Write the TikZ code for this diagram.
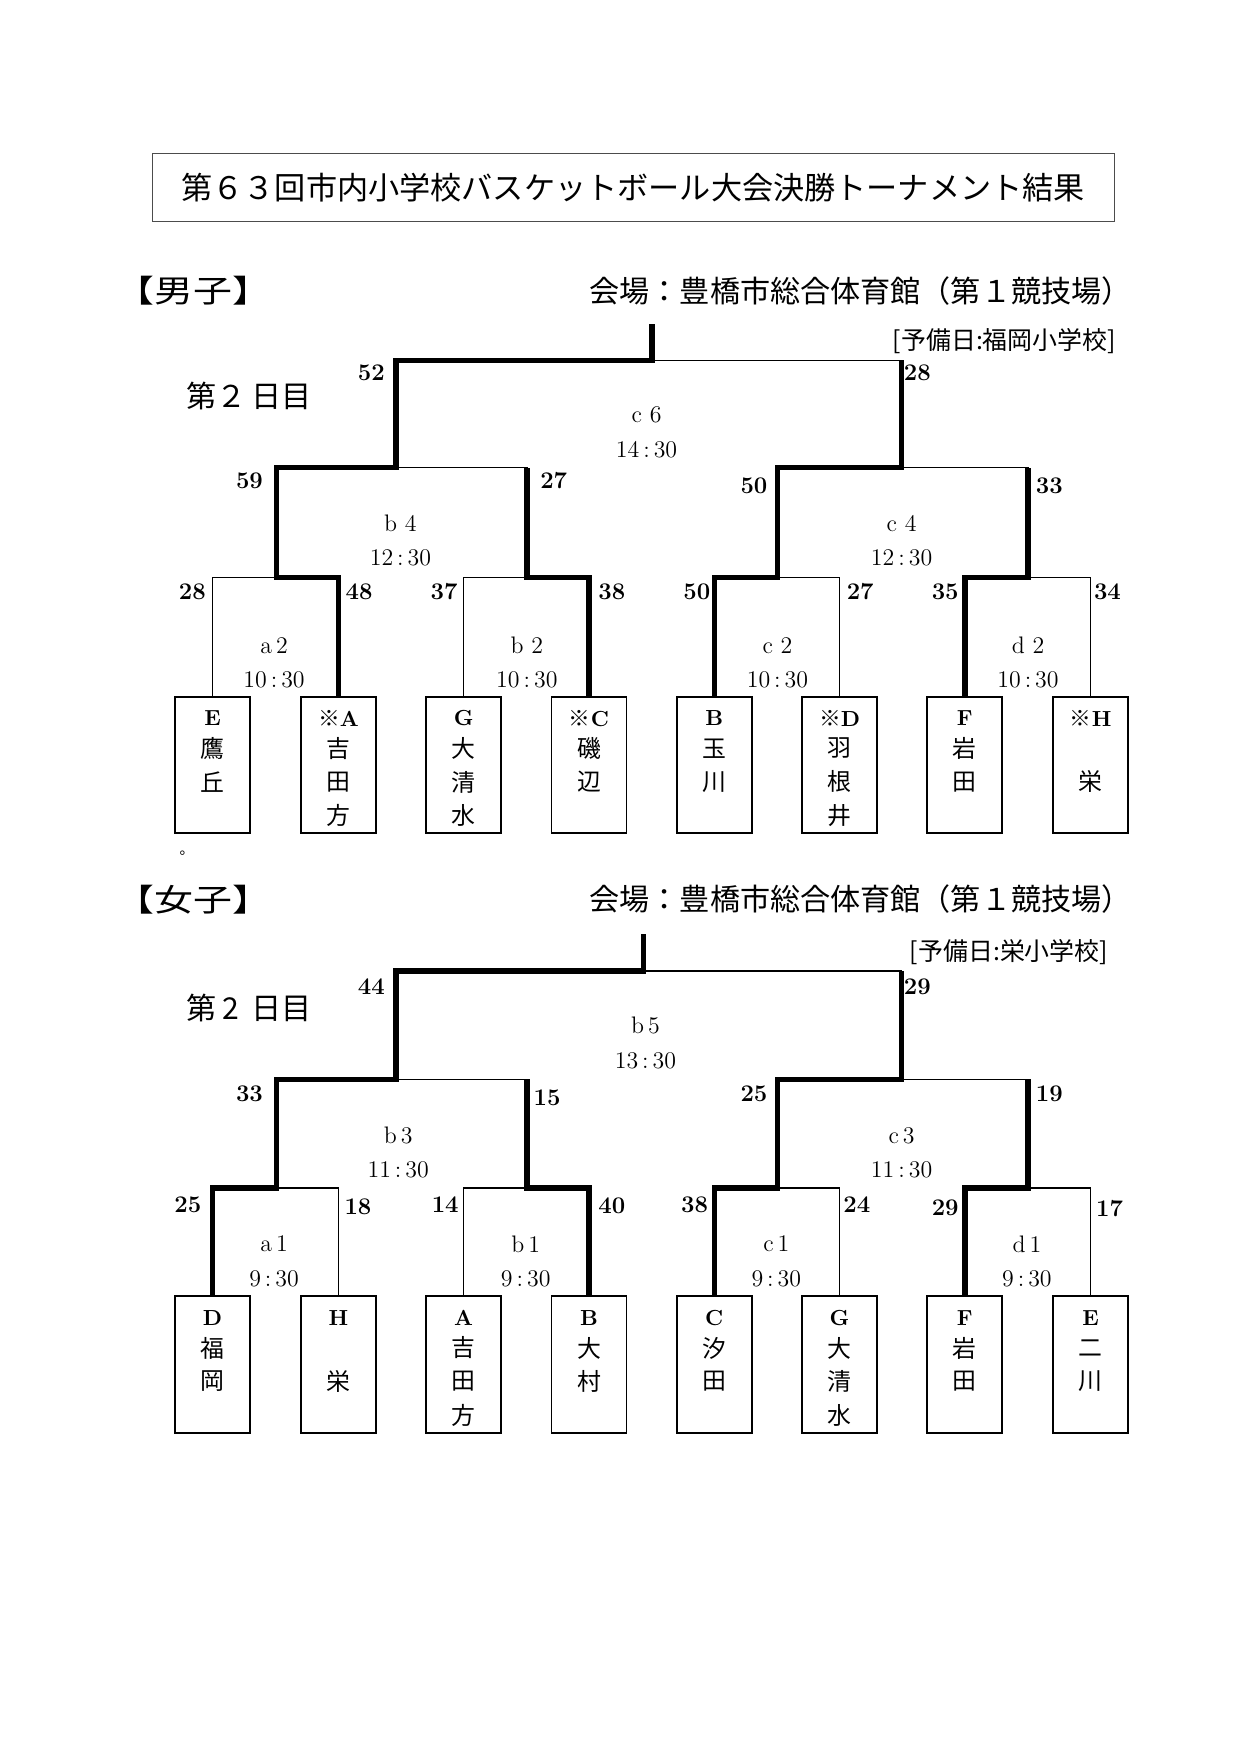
\documentclass[tikz,border=0pt]{standalone}
\usepackage{fontspec}
\newfontfamily\jp{Noto Sans CJK JP}
\newfontfamily\jpwide[FakeStretch=1.25]{Noto Sans CJK JP}
\tikzset{
  thinln/.style={line width=0.6pt},
  winln/.style={line width=2.6pt, line join=miter},
  tbox/.style={draw, line width=0.9pt, minimum width=12.7mm, minimum height=23.1mm, inner sep=0pt, anchor=north},
  score/.style={font=\fontsize{11.5}{12}\selectfont\bfseries, inner sep=0pt},
  mlabel/.style={font=\fontsize{11.5}{12}\selectfont, inner sep=0pt},
  tletter/.style={font=\fontsize{10.5}{11}\selectfont\bfseries, inner sep=0pt},
  tchar/.style={font=\jp\fontsize{11.5}{12}\selectfont, inner sep=0pt},
  hdr/.style={font=\jp\fontsize{14.5}{15}\selectfont, inner sep=0pt},
  sect/.style={font=\jpwide\fontsize{15}{16}\selectfont, inner sep=0pt, anchor=west},
  resv/.style={font=\jp\fontsize{12}{13}\selectfont, inner sep=0pt, anchor=east},
}
\newcommand\teambox[7]{%
  \node[tbox] (#1) at (#2,#3) {};
  \node[tletter] (#1-l) at (#2,#3+20) {#4};
  \node[tchar] (#1-a) at (#2,#3+47) {#5};
  \node[tchar] (#1-b) at (#2,#3+77) {#6};
  \node[tchar] (#1-c) at (#2,#3+107) {#7};
}
\newcommand\matchlbl[5]{%
  \node[mlabel] (#1-n) at (#2,#3) {#4};
  \node[mlabel] (#1-t) at (#2,#3+31) {#5};
}
\newcommand\mk{{\jp ※}}
\begin{document}
\begin{tikzpicture}[x=0.18932mm,y=-0.18932mm]
\useasboundingbox (0,0) rectangle (1109,1568);

% title
\node[draw=black!70, line width=0.6pt, minimum width=162.8mm, minimum height=11.55mm,
      font=\jp\fontsize{15}{16}\selectfont] (title) at (566,167.5)
  {第６３回市内小学校バスケットボール大会決勝トーナメント結果};

% ================= boys =================
\node[sect] (mhead) at (103,260) {【男子】};
\node[hdr, anchor=east] (mvenue) at (1012,260) {会場：豊橋市総合体育館（第１競技場）};
\node[resv] (mres) at (998,305) {[予備日:福岡小学校]};
\node[hdr, anchor=west] (mday) at (166.5,354) {第２\hspace{2pt}日目};

\teambox{mE}{190}{622}{E}{鷹}{丘}{}
\teambox{mA}{302.5}{622}{\mk A}{吉}{田}{方}
\teambox{mG}{414.5}{622}{G}{大}{清}{水}
\teambox{mC}{526.5}{622}{\mk C}{磯}{辺}{}
\teambox{mB}{638.5}{622}{B}{玉}{川}{}
\teambox{mD}{750.5}{622}{\mk D}{羽}{根}{井}
\teambox{mF}{862.5}{622}{F}{岩}{田}{}
\teambox{mH}{975}{622}{\mk H}{}{栄}{}

\coordinate (mtop) at (583,290);
\coordinate (mfin) at (583,322);
\coordinate (mb4) at (354,418);
\coordinate (mc4) at (806,418);
\coordinate (ma2) at (247,516);
\coordinate (mb2) at (471,516);
\coordinate (mc2) at (695,516);
\coordinate (md2) at (919,516);

\draw[thinln] (mtop) -- (mfin);
\draw[thinln] (mb4) |- (mfin) -| (mc4);
\draw[thinln] (ma2) |- (mb4) -| (mb2);
\draw[thinln] (mc2) |- (mc4) -| (md2);
\draw[thinln] (mE.north) |- (ma2) -| (mA.north);
\draw[thinln] (mG.north) |- (mb2) -| (mC.north);
\draw[thinln] (mB.north) |- (mc2) -| (mD.north);
\draw[thinln] (mF.north) |- (md2) -| (mH.north);

\draw[winln] (mA.north) |- (ma2) |- (mb4) |- (mfin) -- (mtop);
\draw[winln] (mC.north) |- (mb2) -- (mb2 |- mb4);
\draw[winln] (mB.north) |- (mc2) |- (mc4) -- (mc4 |- mfin);
\draw[winln] (mF.north) |- (md2) -- (md2 |- mc4);

\node[score] (ms1) at (332,333) {52};
\node[score] (ms2) at (820,333) {28};
\node[score] (ms3) at (223,430) {59};
\node[score] (ms4) at (495,430) {27};
\node[score] (ms5) at (674,434) {50};
\node[score] (ms6) at (938,434) {33};
\node[score] (ms7) at (172,529) {28};
\node[score] (ms8) at (321,529) {48};
\node[score] (ms9) at (397,529) {37};
\node[score] (ms10) at (547,529) {38};
\node[score] (ms11) at (623,529) {50};
\node[score] (ms12) at (769,529) {27};
\node[score] (ms13) at (845,529) {35};
\node[score] (ms14) at (990,529) {34};

\matchlbl{mlc6}{578}{371}{c\ 6}{14\,:\,30}
\matchlbl{mlb4}{358}{468}{b\ 4}{12\,:\,30}
\matchlbl{mlc4}{806}{468}{c\ 4}{12\,:\,30}
\matchlbl{mla2}{245}{577}{a\,2}{10\,:\,30}
\matchlbl{mlb2}{471}{577}{b\ 2}{10\,:\,30}
\matchlbl{mlc2}{695}{577}{c\ 2}{10\,:\,30}
\matchlbl{mld2}{919}{577}{d\ 2}{10\,:\,30}

\node[font=\jp\fontsize{7}{8}\selectfont, inner sep=0pt] (dot) at (167,763) {。};

% ================= girls =================
\node[sect] (whead) at (103,804) {【女子】};
\node[hdr, anchor=east] (wvenue) at (1012,804) {会場：豊橋市総合体育館（第１競技場）};
\node[resv] (wres) at (991,851) {[予備日:栄小学校]};
\node[hdr, anchor=west] (wday) at (166.5,901) {第\hspace{2.7pt}2\hspace{6pt}日目};

\teambox{wD}{190}{1158}{D}{福}{岡}{}
\teambox{wH}{302.5}{1158}{H}{}{栄}{}
\teambox{wA}{414.5}{1158}{A}{吉}{田}{方}
\teambox{wB}{526.5}{1158}{B}{大}{村}{}
\teambox{wC}{638.5}{1158}{C}{汐}{田}{}
\teambox{wG}{750.5}{1158}{G}{大}{清}{水}
\teambox{wF}{862.5}{1158}{F}{岩}{田}{}
\teambox{wE}{975}{1158}{E}{二}{川}{}

\coordinate (wtop) at (575,835);
\coordinate (wfin) at (575,868);
\coordinate (wb3) at (354,965);
\coordinate (wc3) at (806,965);
\coordinate (wa1) at (247,1062);
\coordinate (wb1) at (471,1062);
\coordinate (wc1) at (695,1062);
\coordinate (wd1) at (919,1062);

\draw[thinln] (wtop) -- (wfin);
\draw[thinln] (wb3) |- (wfin) -| (wc3);
\draw[thinln] (wa1) |- (wb3) -| (wb1);
\draw[thinln] (wc1) |- (wc3) -| (wd1);
\draw[thinln] (wD.north) |- (wa1) -| (wH.north);
\draw[thinln] (wA.north) |- (wb1) -| (wB.north);
\draw[thinln] (wC.north) |- (wc1) -| (wG.north);
\draw[thinln] (wF.north) |- (wd1) -| (wE.north);

\draw[winln] (wD.north) |- (wa1) |- (wb3) |- (wfin) -- (wtop);
\draw[winln] (wB.north) |- (wb1) -- (wb1 |- wb3);
\draw[winln] (wC.north) |- (wc1) |- (wc3) -- (wc3 |- wfin);
\draw[winln] (wF.north) |- (wd1) -- (wd1 |- wc3);

\node[score] (ws1) at (332,882) {44};
\node[score] (ws2) at (820,882) {29};
\node[score] (ws3) at (223,978) {33};
\node[score] (ws4) at (489,981) {15};
\node[score] (ws5) at (674,978) {25};
\node[score] (ws6) at (938,978) {19};
\node[score] (ws7) at (168,1077) {25};
\node[score] (ws8) at (320,1079) {18};
\node[score] (ws9) at (398,1077) {14};
\node[score] (ws10) at (547,1078) {40};
\node[score] (ws11) at (621,1077) {38};
\node[score] (ws12) at (766,1077) {24};
\node[score] (ws13) at (845,1080) {29};
\node[score] (ws14) at (992,1080) {17};

\matchlbl{wlb5}{577}{917}{b\,5}{13\,:\,30}
\matchlbl{wlb3}{356}{1015}{b\,3}{11\,:\,30}
\matchlbl{wlc3}{806}{1015}{c\,3}{11\,:\,30}
\matchlbl{wla1}{245}{1112}{a\,1}{9\,:\,30}
\matchlbl{wlb1}{470}{1112}{b\,1}{9\,:\,30}
\matchlbl{wlc1}{694}{1112}{c\,1}{9\,:\,30}
\matchlbl{wld1}{918}{1112}{d\,1}{9\,:\,30}
\end{tikzpicture}
\end{document}
